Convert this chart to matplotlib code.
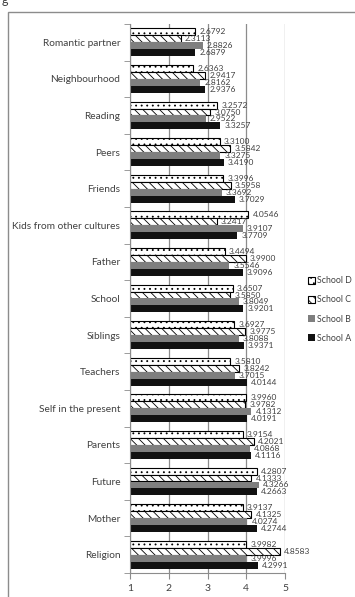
import matplotlib.pyplot as plt
import numpy as np
from matplotlib.patches import Rectangle

# categories, top to bottom
categories = ['Romantic partner', 'Neighbourhood', 'Reading', 'Peers', 'Friends',
              'Kids from other cultures', 'Father', 'School', 'Siblings', 'Teachers',
              'Self in the present', 'Parents', 'Future', 'Mother', 'Religion']

school_d = [2.6792, 2.6363, 3.2572, 3.3100, 3.3996, 4.0546, 3.4494, 3.6507,
            3.6927, 3.5810, 3.9960, 3.9154, 4.2807, 3.9137, 3.9982]
school_c = [2.3113, 2.9417, 3.0750, 3.5842, 3.5958, 3.2417, 3.9900, 3.5850,
            3.9775, 3.8242, 3.9782, 4.2021, 4.1333, 4.1325, 4.8583]
school_b = [2.8826, 2.8162, 2.9522, 3.3275, 3.3692, 3.9107, 3.5546, 3.8049,
            3.8088, 3.7015, 4.1312, 4.0868, 4.3266, 4.0274, 3.9996]
school_a = [2.6879, 2.9376, 3.3257, 3.4190, 3.7029, 3.7709, 3.9096, 3.9201,
            3.9371, 4.0144, 4.0191, 4.1116, 4.2663, 4.2744, 4.2991]

series = [('School D', school_d), ('School C', school_c),
          ('School B', school_b), ('School A', school_a)]

txt = '#404040'
plt.rcParams['font.family'] = ['Lato', 'DejaVu Sans']
plt.rcParams['hatch.linewidth'] = 0.6

fig = plt.figure(figsize=(3.55, 5.97), dpi=100)
ax = fig.add_axes([130/355, 1 - 573/597, 155/355, 549/597])

# outer chart frame (cropped)
fig.patches.append(Rectangle((8/355, -0.1), 2, (1 - 12/597) + 0.1,
                             transform=fig.transFigure, fill=False,
                             edgecolor='#8c8c8c', linewidth=1.0))
fig.text(2/355, 1 - 6/597, 'g', fontsize=9, color=txt, va='bottom')

y = np.arange(len(categories))
h = 0.19
styles = [dict(color='white', edgecolor='black', hatch='...', linewidth=0.8),
          dict(color='white', edgecolor='black', hatch='\\\\\\\\', linewidth=0.8),
          dict(color='#7f7f7f', edgecolor='none'),
          dict(color='#111111', edgecolor='none')]

handles = []
for k, ((name, vals), st) in enumerate(zip(series, styles)):
    pos = y + (k - 1.5) * h
    bars = ax.barh(pos, np.array(vals) - 1, left=1, height=h, label=name, **st)
    handles.append(bars)
    for p, v in zip(pos, vals):
        ax.annotate(f'{v:.4f}', (v, p), xytext=(3, 0), textcoords='offset points',
                    va='center', ha='left', fontsize=6, color=txt)

ax.set_xlim(1, 5)
ax.set_ylim(len(categories) - 0.5, -0.5)
ax.set_xticks([1, 2, 3, 4, 5])
ax.set_xticklabels(['1', '2', '3', '4', '5'], fontsize=7.5, color=txt)
ax.set_yticks(y)
ax.set_yticklabels(categories, fontsize=7.3, color=txt)
ax.set_yticks(np.arange(-0.5, len(categories), 1), minor=True)
ax.tick_params(axis='y', which='major', length=0, pad=7)
ax.tick_params(axis='y', which='minor', length=4, color='#8c8c8c')
ax.tick_params(axis='x', length=4, color='#8c8c8c', pad=4)
ax.xaxis.grid(True, color='#8c8c8c', linewidth=0.9)
ax.set_axisbelow(True)
for s in ['top', 'right']:
    ax.spines[s].set_visible(False)
for s in ['left', 'bottom']:
    ax.spines[s].set_color('#8c8c8c')

fig.legend(handles=handles, loc='upper left', bbox_to_anchor=(304/355, 1 - 272/597),
           frameon=False, fontsize=6.3, labelcolor=txt, handlelength=0.75,
           handleheight=0.8, handletextpad=0.2, labelspacing=1.15, borderpad=0)

fig.savefig('out.png', dpi=100)
